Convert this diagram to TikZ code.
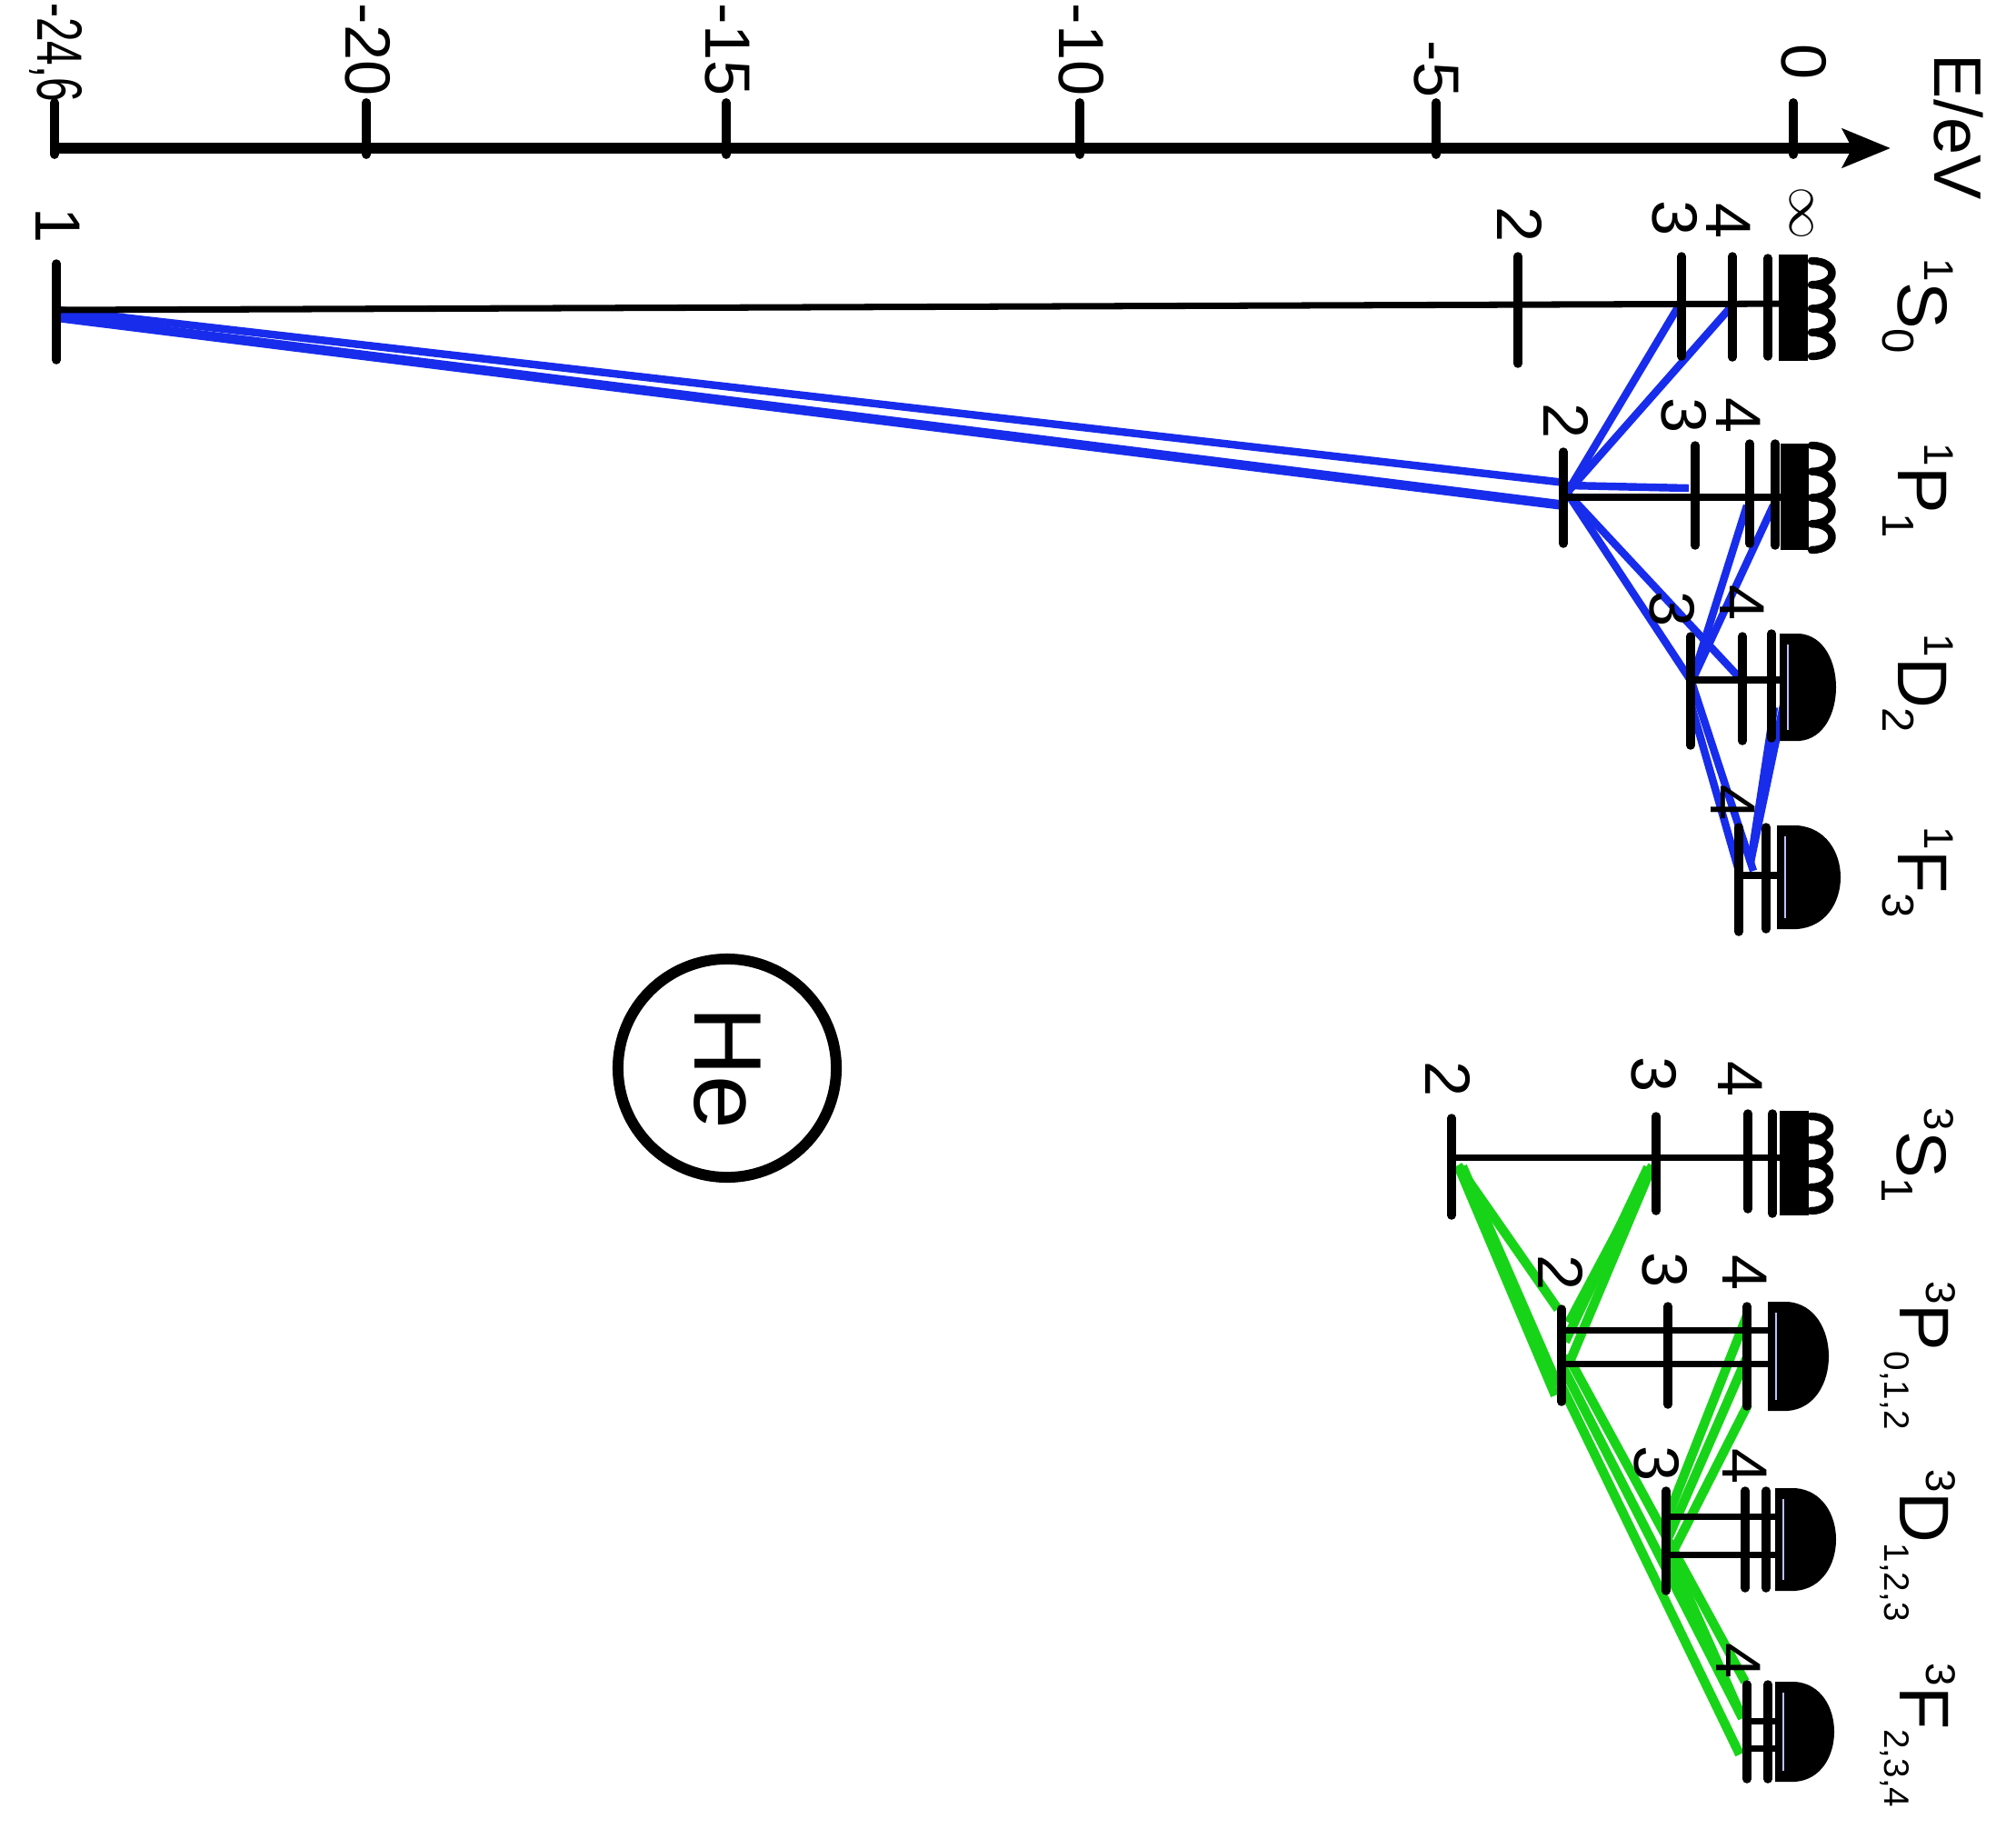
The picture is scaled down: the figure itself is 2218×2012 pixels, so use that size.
\documentclass[tikz,border=0pt]{standalone}
\usepackage{fontspec}
\setmainfont{Liberation Sans}
\usetikzlibrary{arrows.meta,calc}
\definecolor{singletcol}{RGB}{24,44,236}
\definecolor{tripletcol}{RGB}{24,212,24}
\tikzset{
  energyaxis/.style={line width=3.6pt, -{Stealth[length=15pt,width=12pt,inset=3pt]}},
  axtick/.style={line width=2.8pt, line cap=round},
  levelline/.style={line width=2pt},
  leveltick/.style={line width=2.7pt, line cap=round},
  densetick/.style={line width=3.6pt},
  numlabel/.style={rotate=-90, font=\fontsize{20}{20}\selectfont, inner sep=0pt},
  termlabel/.style={rotate=-90, font=\fontsize{22}{22}\selectfont, inner sep=0pt},
  singletline/.style={singletcol, line width=2.4pt},
  tripletline/.style={tripletcol, line width=2.9pt},
  ringline/.style={line width=3.4pt},
}
% term symbol: multiplicity, letter, size of the J values, J values
\newcommand{\term}[4]{\raisebox{0.38em}{\fontsize{13}{13}\selectfont #1}#2\raisebox{-0.22em}{\fontsize{#3}{#3}\selectfont #4}}
% vertical tick of one level: x, y top, y bottom
\newcommand{\lvtick}[3]{\draw[leveltick] (#1,#2) -- (#1,#3);}
% wavy edge of the continuum: x, y top, y bottom, bulge
\newcommand{\scallop}[4]{%
  \pgfmathsetmacro{\scstep}{(#3-#2)/4}
  \draw[line width=2.4pt, line join=round, line cap=round] (#1,#2)
    \foreach \k in {0,1,2,3} { .. controls ({#1+#4},{#2+\k*\scstep}) and ({#1+#4},{#2+\k*\scstep+\scstep}) .. (#1,{#2+\k*\scstep+\scstep}) };
}
% filled block of the crowded levels near the limit: x0, y top, y bottom, x max
\newcommand{\dome}[4]{%
  \pgfmathsetmacro{\dmA}{#2+0.04*(#3-#2)}
  \pgfmathsetmacro{\dmB}{#3-0.04*(#3-#2)}
  \pgfmathsetmacro{\dmX}{#4+(#4-#1-22)/3}
  \fill (#1,#2) -- ({#1+22},#2) .. controls (\dmX,\dmA) and (\dmX,\dmB) .. ({#1+22},#3) -- (#1,#3) -- cycle;
  \draw[white!75!blue, line width=0.7pt] ({#1+9},{#2+12}) -- ({#1+9},{#3-12});
}
\begin{document}
\begin{tikzpicture}[x=0.01cm,y=-0.01cm]
\useasboundingbox (0,0) rectangle (2218,2012);
\fill[white] (0,0) rectangle (2218,2012);

% ---------- energy axis ----------
\coordinate (ax0) at (60,163);
\coordinate (axend) at (2080,163);
\draw[energyaxis] (ax0) -- (axend);
\foreach \x in {60,403,799,1188,1580,1973} \draw[axtick] (\x,113) -- (\x,170);
\node[numlabel, anchor=east] (tm246) at (62,113) {\scalebox{0.68}[1]{-24,6}};
\node[numlabel, anchor=east] (tm20) at (405,106) {-20};
\node[numlabel, anchor=east] (tm15) at (800,106) {-15};
\node[numlabel, anchor=east] (tm10) at (1190,106) {-10};
\node[numlabel, anchor=east] (tm5) at (1580,108) {-5};
\node[numlabel] (t0) at (1985,68) {0};
\node[numlabel, font=\fontsize{21}{21}\selectfont] (eunit) at (2155,140) {E/eV};

% ---------- level points used by the transitions ----------
\coordinate (S1) at (64,345);
\coordinate (S3) at (1846,338);
\coordinate (S4) at (1904,338);
\coordinate (P2) at (1724,542);
\coordinate (P2u) at (1722,531);
\coordinate (P2l) at (1722,556);
\coordinate (P2h) at (1724,534);
\coordinate (P3) at (1858,537);
\coordinate (P4) at (1922,556);
\coordinate (P5) at (1951,556);
\coordinate (D3) at (1861,750);
\coordinate (D3l) at (1859,770);
\coordinate (D4) at (1916,748);
\coordinate (D5) at (1952,778);
\coordinate (D6) at (1962,776);
\coordinate (F4) at (1926,948);
\coordinate (F4a) at (1929,958);
\coordinate (F4b) at (1913,958);

\coordinate (T2S) at (1604,1282);
\coordinate (T2Sb) at (1609,1283);
\coordinate (T3S) at (1818,1282);
\coordinate (T3Sb) at (1813,1284);
\coordinate (T2Pa) at (1714,1440);
\coordinate (T2Pb) at (1711,1535);
\coordinate (T2Pc) at (1714,1524);
\coordinate (T2Pd) at (1726,1455);
\coordinate (T2Pe) at (1727,1498);
\coordinate (T2Pf) at (1722,1476);
\coordinate (T2Pg) at (1712,1512);
\coordinate (T2Ph) at (1724,1490);
\coordinate (T2Pi) at (1718,1501);
\coordinate (T4Pa) at (1922,1447);
\coordinate (T4Pb) at (1921,1495);
\coordinate (T4Pc) at (1923,1545);
\coordinate (T3Da) at (1835,1668);
\coordinate (T3Db) at (1836,1690);
\coordinate (T3Dc) at (1838,1712);
\coordinate (T4Fa) at (1914,1930);
\coordinate (T4Fb) at (1920,1850);
\coordinate (T4Fc) at (1917,1890);

% ---------- singlet transitions ----------
\draw[singletline] ($(S1)+(0,-4)$) -- (P2u);
\draw[singletline, line width=3pt] ($(S1)+(0,4)$) -- (P2l);
\draw[singletline] (S3) -- (P2);
\draw[singletline] (S4) -- (P2);
\draw[singletline] (P2h) -- (P3);
\draw[singletline] (P2) -- (D3);
\draw[singletline] (P2) -- (D4);
\draw[singletline] (P4) -- (D3);
\draw[singletline] (P5) -- (D3);
\draw[singletline] (D3) -- (F4a);
\draw[singletline] (D3l) -- (F4b);
\draw[singletline] (F4) -- (D5);
\draw[singletline] (F4) -- (D6);

% ---------- triplet transitions ----------
\draw[tripletline] (T2S) -- (T2Pa);
\draw[tripletline] (T2S) -- (T2Pb);
\draw[tripletline] (T2Sb) -- (T2Pc);
\draw[tripletline] (T3S) -- (T2Pd);
\draw[tripletline] (T3S) -- (T2Pe);
\draw[tripletline] (T3Sb) -- (T2Pf);
\draw[tripletline] (T4Pa) -- (T3Da);
\draw[tripletline] (T4Pb) -- (T3Db);
\draw[tripletline] (T4Pc) -- (T3Dc);
\draw[tripletline] (T2Pg) -- (T4Fa);
\draw[tripletline] (T2Ph) -- (T4Fb);
\draw[tripletline] (T2Pi) -- (T4Fc);
\draw[tripletline] (T3Dc) -- (T4Fc);

% ---------- singlet terms ----------
% 1S0
\draw[levelline] (62,341) -- (1985,334);
\lvtick{62}{290}{396}
\lvtick{1670}{282}{400}
\lvtick{1850}{282}{392}
\lvtick{1906}{282}{393}
\lvtick{1945}{284}{392}
\foreach \x in {1963,1970,1977,1983} \draw[densetick] (\x,280) -- (\x,397);
\scallop{1993}{287}{392}{30}
% 1P1
\draw[levelline] (1720,547) -- (1985,547);
\lvtick{1720}{497}{598}
\lvtick{1865}{490}{600}
\lvtick{1925}{488}{598}
\lvtick{1953}{488}{600}
\foreach \x in {1965,1972,1978,1984} \draw[densetick] (\x,488) -- (\x,605);
\scallop{1993}{490}{605}{30}
% 1D2
\draw[levelline] (1860,748) -- (1985,748);
\lvtick{1860}{700}{820}
\lvtick{1917}{700}{815}
\lvtick{1949}{697}{812}
\dome{1958}{697}{815}{2020}
% 1F3
\draw[levelline] (1913,963) -- (1985,963);
\lvtick{1913}{910}{1025}
\lvtick{1943}{910}{1022}
\dome{1955}{908}{1022}{2025}

% ---------- triplet terms ----------
% 3S1
\draw[levelline] (1597,1273) -- (1985,1273);
\lvtick{1597}{1230}{1337}
\lvtick{1822}{1228}{1332}
\lvtick{1923}{1225}{1330}
\lvtick{1950}{1225}{1335}
\foreach \x in {1964,1971,1978,1984} \draw[densetick] (\x,1222) -- (\x,1337);
\scallop{1992}{1228}{1332}{28}
% 3P
\draw[levelline] (1718,1463) -- (1985,1463);
\draw[levelline] (1718,1500) -- (1985,1500);
\lvtick{1718}{1440}{1542}
\lvtick{1835}{1437}{1545}
\lvtick{1922}{1437}{1547}
\dome{1945}{1432}{1552}{2012}
% 3D
\draw[levelline] (1833,1668) -- (1985,1668);
\draw[levelline] (1833,1710) -- (1985,1710);
\lvtick{1833}{1640}{1750}
\lvtick{1920}{1640}{1747}
\lvtick{1943}{1640}{1747}
\dome{1953}{1637}{1750}{2020}
% 3F
\draw[levelline] (1922,1893) -- (1985,1893);
\draw[levelline] (1922,1923) -- (1985,1923);
\lvtick{1922}{1853}{1957}
\lvtick{1945}{1853}{1957}
\dome{1953}{1850}{1960}{2018}

% ---------- principal quantum numbers ----------
\node[numlabel] (n1S1) at (64,248) {1};
\node[numlabel] (n1S2) at (1672,247) {2};
\node[numlabel] (n1S3) at (1843,240) {3};
\node[numlabel] (n1S4) at (1902,243) {4};
\node[numlabel] (n1Sinf) at (1982,235) {\scalebox{0.8}{$\infty$}};
\node[numlabel] (n1P2) at (1723,463) {2};
\node[numlabel] (n1P3) at (1853,457) {3};
\node[numlabel] (n1P4) at (1913,457) {4};
\node[numlabel] (n1D3) at (1840,670) {3};
\node[numlabel] (n1D4) at (1917,663) {4};
\node[numlabel] (n1F4) at (1907,883) {4};
\node[numlabel] (n3S2) at (1593,1187) {2};
\node[numlabel] (n3S3) at (1820,1182) {3};
\node[numlabel] (n3S4) at (1915,1187) {4};
\node[numlabel] (n3P2) at (1717,1400) {2};
\node[numlabel] (n3P3) at (1832,1397) {3};
\node[numlabel] (n3P4) at (1920,1400) {4};
\node[numlabel] (n3D3) at (1823,1610) {3};
\node[numlabel] (n3D4) at (1920,1613) {4};
\node[numlabel] (n3F4) at (1913,1827) {4};

% ---------- term symbols ----------
\node[termlabel] (tS0) at (2110,337) {\term{1}{S}{14}{0}};
\node[termlabel] (tP1) at (2110,540) {\term{1}{P}{14}{1}};
\node[termlabel] (tD2) at (2110,752) {\term{1}{D}{14}{2}};
\node[termlabel] (tF3) at (2110,960) {\term{1}{F}{14}{3}};
\node[termlabel] (tS1) at (2110,1271) {\term{3}{S}{14}{1}};
\node[termlabel] (tP012) at (2110,1491) {\term{3}{P}{11}{0,1,2}};
\node[termlabel] (tD123) at (2110,1700) {\term{3}{D}{11}{1,2,3}};
\node[termlabel] (tF234) at (2110,1909) {\term{3}{F}{11}{2,3,4}};

% ---------- element ----------
\node[draw, ringline, circle, minimum size=2.4cm, inner sep=0pt, font=\fontsize{30}{30}\selectfont, rotate=-90] (he) at (800,1175) {He};
\end{tikzpicture}
\end{document}
